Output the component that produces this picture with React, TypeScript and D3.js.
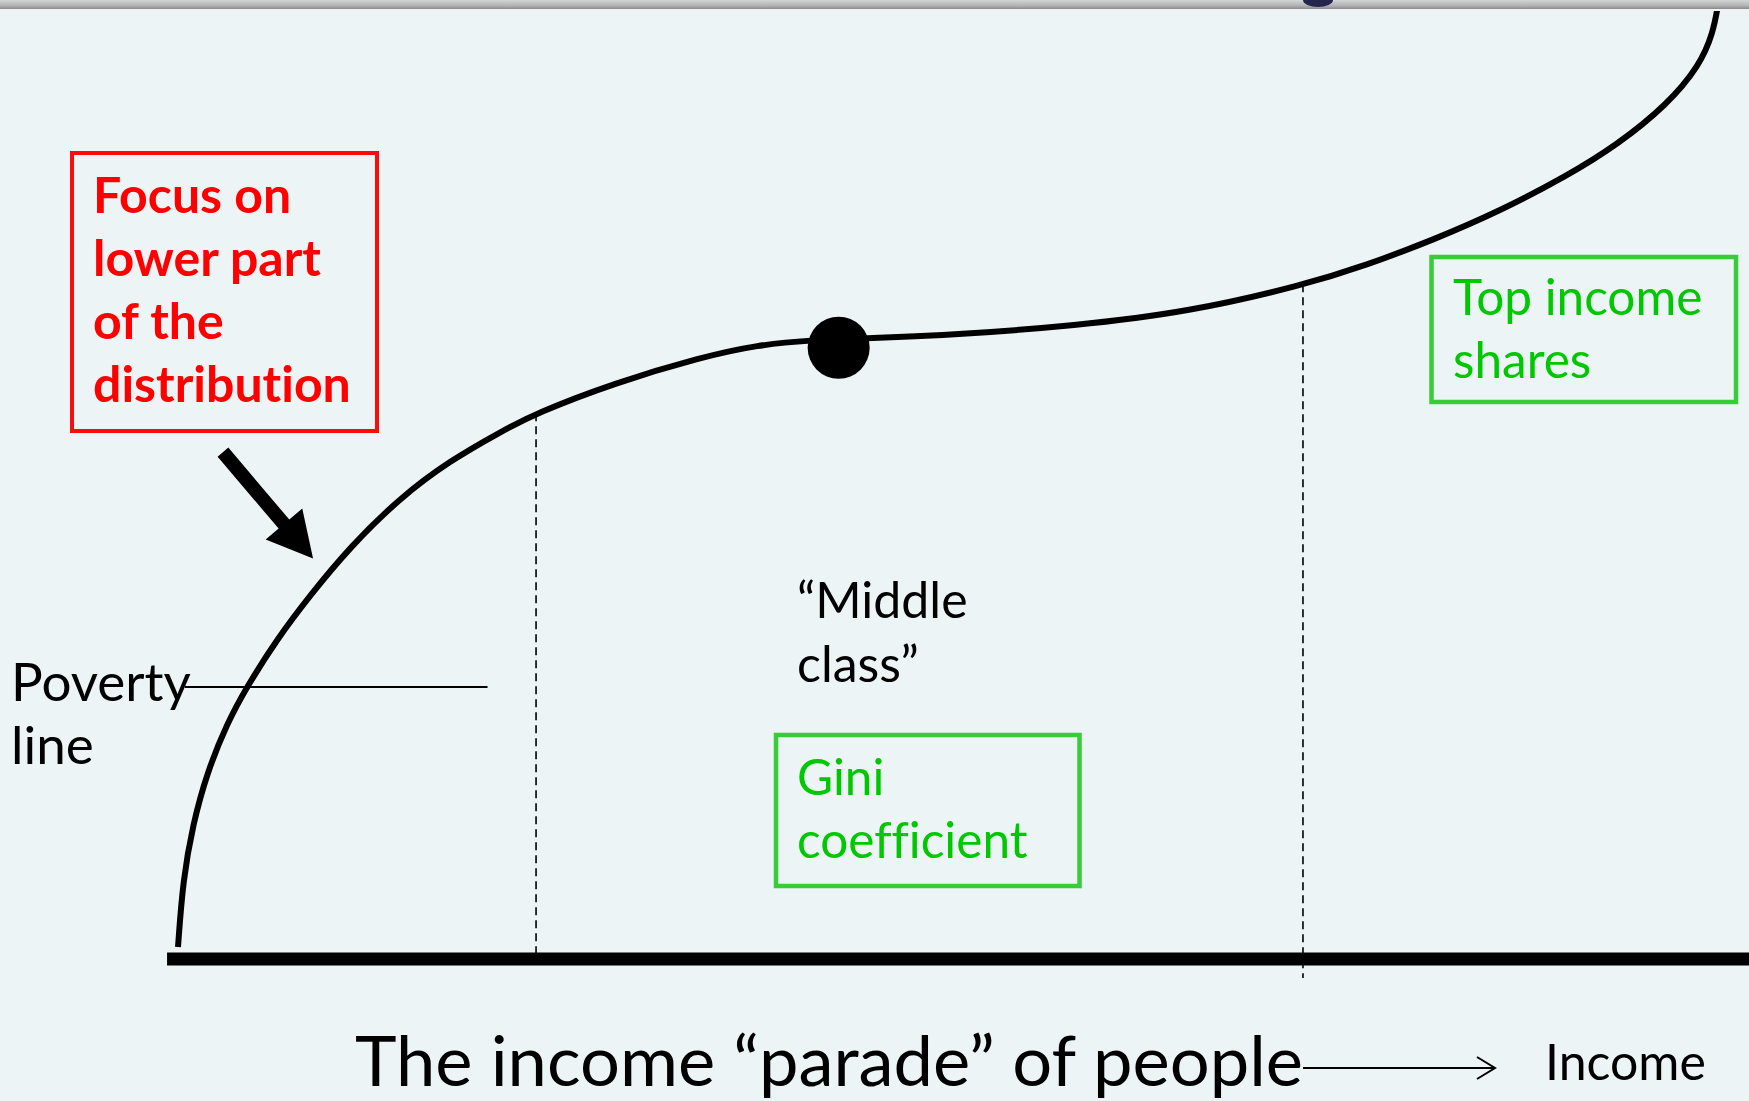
import React, { useEffect, useRef } from 'react';
import * as d3 from 'd3';

// Pen's parade: share of people (0-100, left to right) vs income (0-100)
const paradeX = [0, 0.32, 0.97, 1.88, 3.18, 4.48, 6.43, 8.57, 11.17, 14.42, 17.66, 20.91, 23.25, 28.38, 33.96, 37.66, 41.04, 44.74, 50.71, 58.18, 65.65, 73.12, 77.21, 81.49, 85.84, 90.19, 93.44, 96.69, 98.83, 99.68, 100];
const paradeY = [1.05, 8.1, 14.0, 19.4, 24.6, 28.5, 33.5, 38.1, 43.2, 48.4, 52.3, 55.3, 57.3, 60.5, 63.2, 64.5, 65.0, 65.2, 65.6, 66.5, 67.97, 70.81, 72.92, 75.55, 78.61, 82.3, 85.56, 89.78, 93.99, 97.37, 100.3];

// median marker
const medianPoint = [42.9, 64.2];

// dashed group boundaries (x, top of the line, bottom of the line)
const boundaryX = [23.25, 73.05];
const boundaryTop = [57.3, 70.9];
const boundaryBottom = [0, -2.2];

// poverty line (income level and the x extent)
const povertyIncome = 28.45;
const povertyFrom = 0.45;
const povertyTo = 20.1;

// pointer arrow (start and tip)
const pointerFrom = [2.92, 53.2];
const pointerTo = [8.77, 42.0];

const redLines = ['Focus on', 'lower part', 'of the', 'distribution'];
const povertyLines = ['Poverty', 'line'];
const middleLines = ['\u201CMiddle', 'class\u201D'];
const giniLines = ['Gini', 'coefficient'];
const topLines = ['Top income', 'shares'];
const titleText = 'The income \u201Cparade\u201D of people';
const incomeText = 'Income';

const W = 1749;
const H = 1101;
const FONT = 'Lato, "Open Sans", sans-serif';

export default function App() {
    const ref = useRef<SVGSVGElement>(null);

    useEffect(() => {
        document.body.style.margin = '0';
        const svg = d3.select(ref.current);
        svg.selectAll('*').remove();

        const x = d3.scaleLinear().domain([0, 100]).range([178, 1718]);
        const y = d3.scaleLinear().domain([0, 100]).range([957, 8]);

        // background
        svg.append('rect').attr('width', W).attr('height', H).attr('fill', '#ECF4F6');

        // grey bar on top
        const defs = svg.append('defs');
        const grad = defs.append('linearGradient').attr('id', 'topbar').attr('x1', 0).attr('y1', 0).attr('x2', 0).attr('y2', 1);
        grad.append('stop').attr('offset', '0').attr('stop-color', '#d4d6d6');
        grad.append('stop').attr('offset', '0.6').attr('stop-color', '#b3b5b5');
        grad.append('stop').attr('offset', '1').attr('stop-color', '#8a8c8c');

        // dashed boundaries
        boundaryX.forEach((bx, i) => {
            svg.append('line')
                .attr('x1', x(bx)).attr('x2', x(bx))
                .attr('y1', y(boundaryTop[i])).attr('y2', y(boundaryBottom[i]))
                .attr('stroke', '#000')
                .attr('stroke-width', 1.6)
                .attr('stroke-dasharray', '8,5');
        });

        // baseline
        svg.append('line')
            .attr('x1', x(-0.71)).attr('x2', W)
            .attr('y1', y(-0.2)).attr('y2', y(-0.2))
            .attr('stroke', '#000')
            .attr('stroke-width', 13);

        // poverty line
        svg.append('line')
            .attr('x1', x(povertyFrom)).attr('x2', x(povertyTo))
            .attr('y1', y(povertyIncome)).attr('y2', y(povertyIncome))
            .attr('stroke', '#000')
            .attr('stroke-width', 2);

        // the parade curve
        const pts: [number, number][] = paradeX.map((d, i) => [d, paradeY[i]]);
        const line = d3.line<[number, number]>()
            .x(d => x(d[0]))
            .y(d => y(d[1]))
            .curve(d3.curveBasis);
        svg.append('path')
            .attr('d', line(pts))
            .attr('fill', 'none')
            .attr('stroke', '#000')
            .attr('stroke-width', 6);

        // median dot
        svg.append('circle')
            .attr('cx', x(medianPoint[0]))
            .attr('cy', y(medianPoint[1]))
            .attr('r', 31)
            .attr('fill', '#000');

        // pointer arrow
        const ax0 = x(pointerFrom[0]), ay0 = y(pointerFrom[1]);
        const ax1 = x(pointerTo[0]), ay1 = y(pointerTo[1]);
        const len = Math.hypot(ax1 - ax0, ay1 - ay0);
        const ux = (ax1 - ax0) / len, uy = (ay1 - ay0) / len;
        const nx = -uy, ny = ux;
        const headLen = 45, headW = 24, shaftW = 7;
        const bx = ax1 - ux * headLen, by = ay1 - uy * headLen;
        const poly: [number, number][] = [
            [ax0 + nx * shaftW, ay0 + ny * shaftW],
            [bx + nx * shaftW, by + ny * shaftW],
            [bx + nx * headW, by + ny * headW],
            [ax1, ay1],
            [bx - nx * headW, by - ny * headW],
            [bx - nx * shaftW, by - ny * shaftW],
            [ax0 - nx * shaftW, ay0 - ny * shaftW]
        ];
        svg.append('polygon')
            .attr('points', poly.map(p => p.join(',')).join(' '))
            .attr('fill', '#000');

        // boxes
        svg.append('rect').attr('x', 72).attr('y', 153).attr('width', 305).attr('height', 278)
            .attr('fill', 'none').attr('stroke', '#FF0A0A').attr('stroke-width', 4);
        svg.append('rect').attr('x', 1431.5).attr('y', 257).attr('width', 304.5).attr('height', 145)
            .attr('fill', 'none').attr('stroke', '#38CC38').attr('stroke-width', 4.5);
        svg.append('rect').attr('x', 776).attr('y', 735).attr('width', 303.5).attr('height', 151)
            .attr('fill', 'none').attr('stroke', '#38CC38').attr('stroke-width', 4.5);

        // text blocks
        const block = (lines: string[], tx: number, ty: number, size: number, color: string, weight: string | number, step: number) => {
            const t = svg.append('text')
                .attr('x', tx).attr('y', ty)
                .style('font-family', FONT)
                .style('font-size', size + 'px')
                .style('font-weight', weight)
                .style('font-variant-ligatures', 'none')
                .style('fill', color);
            lines.forEach((l, i) => {
                t.append('tspan').attr('x', tx).attr('y', ty + i * step).text(l);
            });
        };
        block(redLines, 93, 213, 50, '#FF0000', 'bold', 63);
        block(povertyLines, 11, 701, 53, '#000', 'normal', 63);
        block(middleLines, 797, 618, 50, '#000', 'normal', 64);
        block(giniLines, 797, 795, 49.5, '#00C800', 'normal', 63);
        block(topLines, 1453, 315, 49.5, '#00C800', 'normal', 63);
        block([titleText], 355, 1086, 70.5, '#000', 'normal', 0);
        block([incomeText], 1545, 1080, 50, '#000', 'normal', 0);

        // small arrow to "Income"
        svg.append('line')
            .attr('x1', 1303).attr('x2', 1495)
            .attr('y1', 1068).attr('y2', 1068)
            .attr('stroke', '#000').attr('stroke-width', 2);
        svg.append('path')
            .attr('d', 'M1477,1057 L1495,1068 L1477,1079')
            .attr('fill', 'none').attr('stroke', '#000').attr('stroke-width', 2);

        // top grey bar
        svg.append('rect').attr('x', 0).attr('y', 0).attr('width', W).attr('height', 9).attr('fill', 'url(#topbar)');
        svg.append('rect').attr('x', 0).attr('y', 9).attr('width', W).attr('height', 2).attr('fill', '#f1f0f6');
        svg.append('ellipse').attr('cx', 1318).attr('cy', 0).attr('rx', 15).attr('ry', 7).attr('fill', '#25254d');
    }, []);

    return <svg ref={ref} width={W} height={H} style={{ display: 'block' }} />;
}
